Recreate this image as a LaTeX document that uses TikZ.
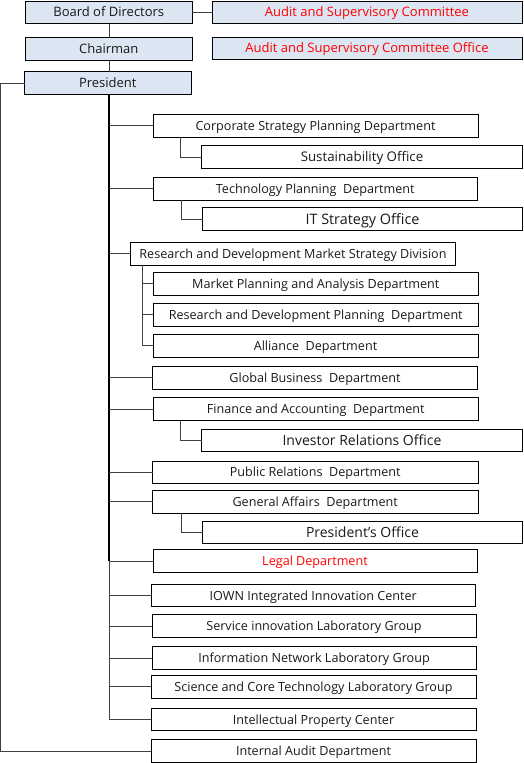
\documentclass[tikz,border=0pt]{standalone}
\usepackage{fontspec}
\setmainfont{Open Sans}
\definecolor{boxfill}{HTML}{DCE6F2}
\definecolor{redtxt}{HTML}{FF0000}
\begin{document}
\begin{tikzpicture}[x=1pt,y=-1pt,
  fs/.style={font=\fontsize{#1pt}{#1pt}\selectfont,text height={0.714*#1pt},text depth=0pt},
  box/.style={draw=black,line width=0.8pt,inner sep=0pt,outer sep=0pt,anchor=north west,fs=12.6,text=black!90},
  bigbox/.style={box,fs=14},
  topbox/.style={box,fill=boxfill,fs=13},
  redt/.style={text=redtxt},
  conn/.style={line width=0.8pt,draw=black!75},
  trunk/.style={line width=2pt,draw=black}]
\useasboundingbox (0,0) rectangle (524,763);
% --- boxes
\node[topbox,minimum width=166.5pt,minimum height=22.5pt] (bod) at (25.5,1) {Board of Directors};
\node[topbox,redt,minimum width=310pt,minimum height=22.5pt] (asc) at (212,1) {Audit and Supervisory Committee};
\node[topbox,minimum width=166.5pt,minimum height=23pt] (chair) at (25.5,37) {Chairman};
\node[topbox,redt,minimum width=310pt,minimum height=22.5pt] (asco) at (212,37) {Audit and Supervisory Committee Office};
\node[topbox,minimum width=166.5pt,minimum height=23pt] (pres) at (24.5,71.5) {President};
\node[box,minimum width=325pt,minimum height=23pt] (cspd) at (153,114) {Corporate Strategy Planning Department};
\node[bigbox,fs=13.3,minimum width=321pt,minimum height=23pt] (sus) at (201.5,145.5) {Sustainability Office};
\node[box,minimum width=324.5pt,minimum height=22.5pt] (tpd) at (153,177.5) {Technology Planning~ Department};
\node[bigbox,fs=14.4,minimum width=320pt,minimum height=23pt] (its) at (202.5,207.5) {IT Strategy Office};
\node[box,minimum width=325pt,minimum height=22.5pt] (rdms) at (130.5,242.5) {Research and Development Market Strategy Division};
\node[box,minimum width=324.5pt,minimum height=23pt] (mpa) at (153.5,272) {Market Planning and Analysis Department};
\node[box,minimum width=324.5pt,minimum height=22.5pt] (rdp) at (153.5,303.5) {Research and Development Planning~ Department};
\node[box,minimum width=325pt,minimum height=23pt] (all) at (153,334) {Alliance~ Department};
\node[box,minimum width=325pt,minimum height=23.5pt] (gbd) at (152.5,366) {Global Business~ Department};
\node[box,minimum width=324.5pt,minimum height=23pt] (fad) at (153.5,397.5) {Finance and Accounting~ Department};
\node[bigbox,minimum width=321pt,minimum height=22.5pt] (iro) at (201.5,429) {Investor Relations Office};
\node[box,minimum width=325.5pt,minimum height=21.5pt] (prd) at (152.5,461.5) {Public Relations~ Department};
\node[box,minimum width=325.5pt,minimum height=22.5pt] (gad) at (152.5,490.5) {General Affairs~ Department};
\node[bigbox,minimum width=320pt,minimum height=22pt] (pso) at (202.5,521.5) {President’s Office};
\node[box,redt,minimum width=324pt,minimum height=23pt] (legal) at (153,549.5) {Legal Department};
\node[box,minimum width=324.5pt,minimum height=22pt] (iown) at (151,584.5) {IOWN Integrated Innovation Center};
\node[box,minimum width=324pt,minimum height=23pt] (sil) at (152,614.5) {Service innovation Laboratory Group};
\node[box,minimum width=324pt,minimum height=23pt] (inl) at (152,646.5) {Information Network Laboratory Group};
\node[box,minimum width=325pt,minimum height=22.5pt] (sct) at (151,675.5) {Science and Core Technology Laboratory Group};
\node[box,minimum width=325pt,minimum height=22pt] (ipc) at (151,708.5) {Intellectual Property Center};
\node[box,minimum width=325pt,minimum height=23pt] (iad) at (151,739.5) {Internal Audit Department};
% --- connectors
\coordinate (leftc) at (0.5,0);
\coordinate (tr) at (109,0);
\draw[conn] (bod.east) -- (asc.west);
\draw[conn] (bod.south -| tr) -- (chair.north -| tr);
\draw[conn] (chair.south -| tr) -- (pres.north -| tr);
\draw[trunk] (pres.south -| tr) -- (legal.west -| tr);
\draw[conn] (legal.west -| tr) -- (ipc.west -| tr);
\foreach \n in {cspd,tpd,rdms,gbd,fad,prd,gad,legal,iown,sil,inl,sct,ipc}
  \draw[conn] (\n.west -| tr) -- (\n.west);
\draw[conn] ([xshift=27pt]cspd.south west) |- (sus.west);
\draw[conn] ([xshift=28pt]tpd.south west) |- (its.west);
\draw[conn] ([xshift=27pt]fad.south west) |- (iro.west);
\draw[conn] ([xshift=28.5pt]gad.south west) |- (pso.west);
\draw[conn] ([xshift=12pt]rdms.south west) |- (all.west);
\draw[conn] ([xshift=12pt]rdms.south west |- mpa.west) -- (mpa.west);
\draw[conn] ([xshift=12pt]rdms.south west |- rdp.west) -- (rdp.west);
\draw[conn] (pres.west) -- (pres.west -| leftc) |- (iad.west);
\end{tikzpicture}
\end{document}
